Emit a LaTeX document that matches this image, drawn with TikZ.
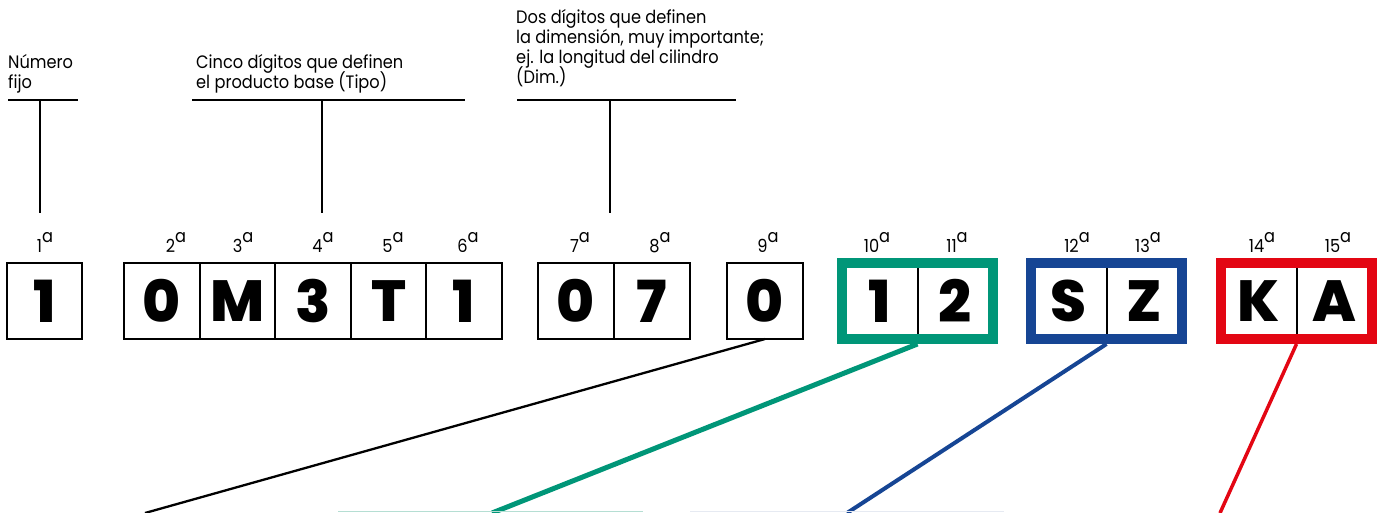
\documentclass[tikz,border=0pt]{standalone}
\usepackage{fontspec}
\setmainfont{Poppins}
\newfontfamily\bodyfont{Poppins}[FakeStretch=0.9]
\IfFontExistsTF{Poppins ExtraBold}{\newfontfamily\heavyfont{Poppins ExtraBold}}{\newfontfamily\heavyfont{Poppins}[UprightFont=*Bold]}
\definecolor{tealgreen}{HTML}{009678}
\definecolor{darkblue}{HTML}{164594}
\definecolor{brightred}{HTML}{E30613}
\definecolor{palegreen}{HTML}{B5DED3}
\definecolor{paleblue}{HTML}{E6EAF2}
\newcommand\ordsup{\raisebox{10pt}{a}}
\begin{document}
\begin{tikzpicture}[x=1pt,y=-1pt,
  cell/.style={draw, line width=2pt, minimum width=75.5pt, minimum height=76pt,
    inner sep=0pt, outer sep=0pt, font=\heavyfont\fontsize{58}{58}\selectfont},
  ord/.style={anchor=base, inner sep=0pt, font=\bodyfont\fontsize{18}{18}\selectfont},
  txt/.style={anchor=base west, inner sep=0pt, font=\bodyfont\fontsize{18}{18}\selectfont},
  lead/.style={line width=2.3pt},
  bar/.style={line width=2.6pt},
]
\useasboundingbox (0,0) rectangle (1380,512);

% cells
\node[cell, minimum width=75pt] (c1) at (44.5,301) {1};
\node[cell] (c2) at (161.8,301) {0};
\node[cell] (c3) at (237.4,301) {M};
\node[cell] (c4) at (313.0,301) {3};
\node[cell] (c5) at (388.6,301) {T};
\node[cell] (c6) at (464.2,301) {1};
\node[cell] (c7) at (576,301) {0};
\node[cell] (c8) at (652,301) {7};
\node[cell] (c9) at (765,301) {0};
\node[cell] (c10) at (879.75,301) {1};
\node[cell] (c11) at (955.25,301) {2};
\node[cell] (c12) at (1068.75,301) {S};
\node[cell] (c13) at (1144.25,301) {Z};
\node[cell] (c14) at (1258.75,301) {K};
\node[cell] (c15) at (1334.25,301) {A};

% position labels
\node[ord] (o1) at (45,252) {1\ordsup};
\node[ord] (o2) at (176,252) {2\ordsup};
\node[ord] (o3) at (243,252) {3\ordsup};
\node[ord] (o4) at (323,252) {4\ordsup};
\node[ord] (o5) at (393,252) {5\ordsup};
\node[ord] (o6) at (468,252) {6\ordsup};
\node[ord] (o7) at (580,252) {7\ordsup};
\node[ord] (o8) at (660,252) {8\ordsup};
\node[ord] (o9) at (768,252) {9\ordsup};
\node[ord] (o10) at (877,252) {10\ordsup};
\node[ord] (o11) at (957,252) {11\ordsup};
\node[ord] (o12) at (1077,252) {12\ordsup};
\node[ord] (o13) at (1148,252) {13\ordsup};
\node[ord] (o14) at (1262,252) {14\ordsup};
\node[ord] (o15) at (1338,252) {15\ordsup};

% descriptive texts
\node[txt] (n1a) at (8,68) {Número};
\node[txt] (n1b) at (8,88) {fijo};
\node[txt] (n2a) at (196,68) {Cinco dígitos que definen};
\node[txt] (n2b) at (196,88) {el producto base (Tipo)};
\node[txt] (n3a) at (516,23) {Dos dígitos que definen};
\node[txt] (n3b) at (516,43) {la dimensión, muy importante;};
\node[txt] (n3c) at (516,63) {ej. la longitud del cilindro};
\node[txt] (n3d) at (516,83) {(Dim.)};

% leader lines
\coordinate (h1l) at (8,100);  \coordinate (h1r) at (78,100);
\coordinate (v1t) at (40,100); \coordinate (v1b) at (40,213);
\coordinate (h2l) at (192,100); \coordinate (h2r) at (465,100);
\coordinate (v2t) at (322,100); \coordinate (v2b) at (322,213);
\coordinate (h3l) at (517,100); \coordinate (h3r) at (736,100);
\coordinate (v3t) at (610,100); \coordinate (v3b) at (610,213);
\draw[bar] (h1l) -- (h1r);
\draw[lead] (v1t) -- (v1b);
\draw[bar] (h2l) -- (h2r);
\draw[lead] (v2t) -- (v2b);
\draw[bar] (h3l) -- (h3r);
\draw[lead] (v3t) -- (v3b);

% connectors to below
\coordinate (e9) at (145,513);
\coordinate (e10) at (492,513);
\coordinate (e12) at (847,513);
\coordinate (e14) at (1220,513);
\draw[line width=2.3pt] (c9.south) -- (e9);
\draw[tealgreen, line width=5pt] ([yshift=-5pt]c10.south east) -- (e10);
\draw[darkblue, line width=4pt] ([yshift=-5pt]c12.south east) -- (e12);
\draw[brightred, line width=3.5pt] ([yshift=-5pt]c14.south east) -- (e14);

% group frames
\draw[tealgreen, line width=10pt] (c10.north west) rectangle (c11.south east);
\draw[darkblue, line width=10pt] (c12.north west) rectangle (c13.south east);
\draw[brightred, line width=10pt] (c14.north west) rectangle (c15.south east);

% faint edges at the bottom
\coordinate (g1) at (338,511.3); \coordinate (g2) at (643,511.3);
\coordinate (b1) at (690,511.3); \coordinate (b2) at (1004,511.3);
\draw[palegreen, line width=1.5pt] (g1) -- (g2);
\draw[paleblue, line width=1.5pt] (b1) -- (b2);
\end{tikzpicture}
\end{document}
